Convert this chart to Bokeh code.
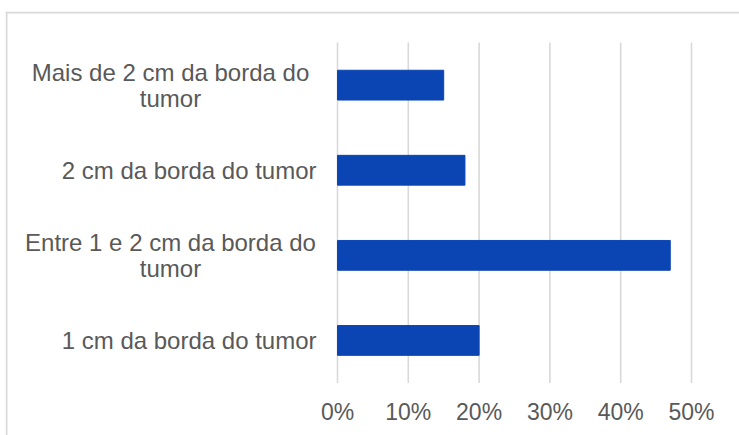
from bokeh.plotting import figure
from bokeh.models import ColumnDataSource, Range1d, Span
from bokeh.core.properties import value
from bokeh.embed import file_html
from bokeh.resources import INLINE

# ---- data (bottom to top, as drawn) ----
categories = [
    "1 cm da borda do tumor",
    "Entre 1 e 2 cm da borda do\ntumor",
    "2 cm da borda do tumor",
    "Mais de 2 cm da borda do\ntumor",
]
values = [0.20, 0.47, 0.18, 0.15]
tick_values = [0.0, 0.1, 0.2, 0.3, 0.4, 0.5]
tick_labels = ["0%", "10%", "20%", "30%", "40%", "50%"]

# ---- layout ----
W, H = 739, 435
LEFT, TOP = 5, 11
X0_PX, PX_PER_UNIT = 337.0, 708.0      # pixel of 0 %, pixels per 100 %
Y_BOTTOM_PX, BAND = 382.5, 85.1        # pixel of bottom of category area, band height

def xd(px):
    return (px - X0_PX) / PX_PER_UNIT

def yd(py):
    return (Y_BOTTOM_PX - py) / BAND

FONT = value("Liberation Sans")
TEXT_COLOR = "#595959"
GRID_COLOR = "#d9d9d9"
BAR_COLOR = "#0B45B3"

p = figure(width=W, height=H, output_backend="svg", toolbar_location=None,
           x_range=Range1d(xd(LEFT), xd(W)), y_range=Range1d(yd(H), yd(TOP)),
           x_axis_location=None, y_axis_location=None,
           min_border_left=LEFT, min_border_top=TOP,
           min_border_right=0, min_border_bottom=0)
p.xgrid.visible = False
p.ygrid.visible = False
p.outline_line_color = None
p.background_fill_color = "white"
p.border_fill_color = "white"

n = len(categories)
ypos = [i + 0.5 for i in range(n)]

# gridlines
p.segment(x0=tick_values, y0=[0] * len(tick_values), x1=tick_values, y1=[n] * len(tick_values),
          line_color=GRID_COLOR, line_width=1.6)

# bars
src = ColumnDataSource(dict(y=ypos, v=values, cat=categories))
p.hbar(y="y", left=0, right="v", height=0.35, source=src,
       fill_color=BAR_COLOR, line_color=BAR_COLOR)

# x tick labels
p.text(x=tick_values, y=[yd(411)] * len(tick_values), text=tick_labels,
       text_align="center", text_baseline="middle", text_font=FONT,
       text_font_size="23px", text_color=TEXT_COLOR)

# category labels
single = [(y, c) for y, c in zip(ypos, categories) if "\n" not in c]
multi = [(y, c) for y, c in zip(ypos, categories) if "\n" in c]
p.text(x=[xd(316)] * len(single), y=[s[0] for s in single], text=[s[1] for s in single],
       text_align="right", text_baseline="middle", text_font=FONT,
       text_font_size="24px", text_color=TEXT_COLOR)
p.text(x=[xd(170)] * len(multi), y=[m[0] for m in multi], text=[m[1] for m in multi],
       text_align="center", text_baseline="middle", text_font=FONT,
       text_font_size="24px", text_color=TEXT_COLOR, text_line_height=0.96)

# chart border (left and top visible)
p.add_layout(Span(location=xd(6), dimension="height", line_color=GRID_COLOR, line_width=2))
p.add_layout(Span(location=yd(12), dimension="width", line_color=GRID_COLOR, line_width=2))

open("out.html", "w").write(file_html(p, INLINE))
